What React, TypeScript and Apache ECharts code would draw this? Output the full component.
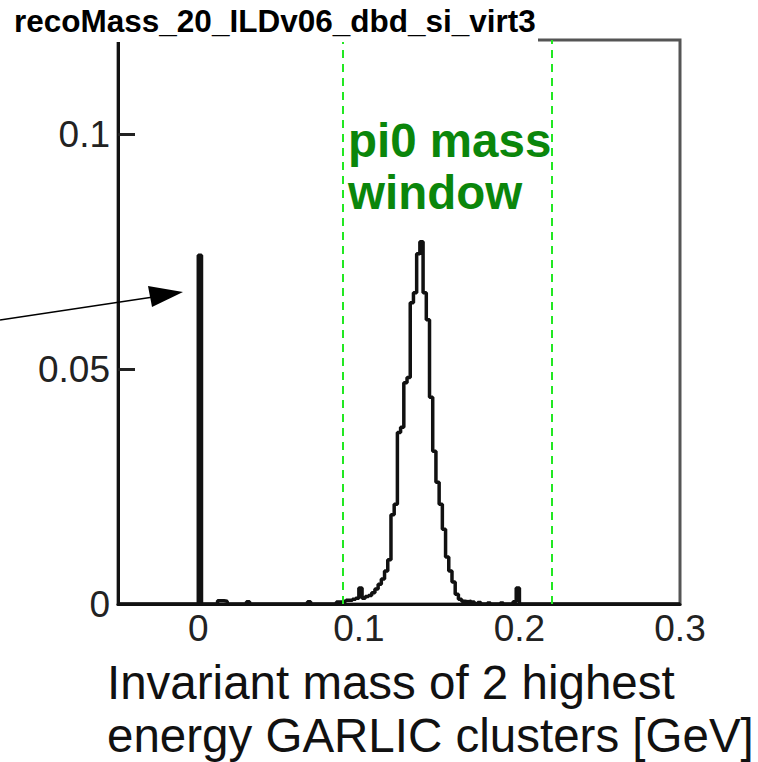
import React, { useEffect, useRef } from "react";
import * as echarts from "echarts";

// Histogram binning
const binMin = -0.05;
const binMax = 0.3;
const binWidth = 0.002;

// Sparse non-zero bins: [bin low edge, content]
const spikeBins: [number, number][] = [
  [0.0, 0.0742],
  [0.012, 0.0007],
  [0.014, 0.0007],
  [0.016, 0.0006],
  [0.03, 0.0005],
  [0.068, 0.0005],
];

// Peak region contents, bins starting at peakStart
const peakStart = 0.086;
const peakValues: number[] = [
  0.0004, 0.0004, 0.0006, 0.0008, 0.0008, 0.001, 0.0012, 0.0034, 0.0012, 0.0016,
  0.0018, 0.0024, 0.0032, 0.0042, 0.0053, 0.007, 0.0094, 0.019, 0.0212, 0.0365,
  0.0376, 0.0471, 0.0482, 0.0641, 0.0662, 0.0745, 0.0771, 0.0662, 0.0605, 0.044,
  0.0325, 0.0259, 0.0212, 0.0159, 0.01, 0.007, 0.0047, 0.0021, 0.001, 0.0006,
  0.0005, 0.0006, 0.0004,
];

// Right tail bins: [bin low edge, content]
const tailBins: [number, number][] = [
  [0.174, 0.0003],
  [0.18, 0.0002],
  [0.188, 0.0002],
  [0.196, 0.0005],
  [0.198, 0.0034],
];

const windowEdges = [0.09, 0.22];
const xLabels = [0, 0.1, 0.2, 0.3];
const yLabels = [0, 0.05, 0.1];
const yTicks = [0.05, 0.1];

const titleText = "recoMass_20_ILDv06_dbd_si_virt3";
const xTitleLines = ["Invariant mass of 2 highest", "energy GARLIC clusters [GeV]"];
const windowTextLines = ["pi0 mass", "window"];

function buildHistogram(): number[][] {
  const nBins = Math.round((binMax - binMin) / binWidth);
  const contents = new Array(nBins).fill(0);
  const idx = (x: number) => Math.round((x - binMin) / binWidth);
  spikeBins.forEach(([x, v]) => (contents[idx(x)] = v));
  peakValues.forEach((v, i) => (contents[idx(peakStart) + i] = v));
  tailBins.forEach(([x, v]) => (contents[idx(x)] = v));
  const pts: number[][] = [];
  for (let k = 0; k < nBins; k++) {
    const lo = binMin + k * binWidth;
    const hi = lo + binWidth;
    pts.push([lo, contents[k]]);
    pts.push([hi, contents[k]]);
  }
  return pts;
}

const FONT = "'Liberation Sans', Arial, Helvetica, sans-serif";

export default function App() {
  const ref = useRef<HTMLDivElement>(null);
  useEffect(() => {
    if (!ref.current) return;
    const chart = echarts.init(ref.current, null, { renderer: "svg" });
    const option: any = {
      animation: false,
      backgroundColor: "#ffffff",
      grid: {
        left: 118,
        right: 78,
        top: 40,
        bottom: 158,
        show: true,
        borderColor: "#555555",
        borderWidth: 3,
        backgroundColor: "transparent",
      },
      xAxis: {
        type: "value",
        min: binMin,
        max: binMax,
        interval: 0.05,
        axisLine: { show: true, onZero: false, lineStyle: { color: "#111", width: 3 } },
        axisTick: { show: false },
        splitLine: { show: false },
        axisLabel: {
          customValues: xLabels,
          formatter: (v: number) => String(Math.round(v * 10) / 10),
          color: "#222",
          fontSize: 37,
          fontFamily: FONT,
          margin: 6,
        },
      },
      yAxis: {
        type: "value",
        min: 0,
        max: 0.12,
        interval: 0.05,
        axisLine: { show: true, onZero: false, lineStyle: { color: "#111", width: 3 } },
        axisTick: {
          show: true,
          inside: true,
          length: 17,
          customValues: yTicks,
          lineStyle: { color: "#222", width: 3 },
        },
        splitLine: { show: false },
        axisLabel: {
          customValues: yLabels,
          formatter: (v: number) => String(Math.round(v * 100) / 100),
          color: "#222",
          fontSize: 37,
          fontFamily: FONT,
          margin: 8,
        },
      },
      series: [
        {
          type: "line",
          data: buildHistogram(),
          symbol: "none",
          showSymbol: false,
          lineStyle: { color: "#111", width: 3.5 },
          z: 3,
          markLine: {
            silent: true,
            symbol: "none",
            label: { show: false },
            lineStyle: { color: "#22e822", type: [8, 6], width: 2 },
            data: windowEdges.map((x) => ({ xAxis: x })),
          },
        },
      ],
      graphic: [
        {
          type: "rect",
          left: 0,
          top: 0,
          shape: { width: 538, height: 42 },
          style: { fill: "#ffffff" },
          z: 10,
        },
        {
          type: "text",
          left: 14,
          top: 5,
          z: 11,
          style: {
            text: titleText,
            font: `bold 31.5px ${FONT}`,
            fill: "#000",
          },
        },
        {
          type: "text",
          left: 348,
          top: 114,
          z: 11,
          style: {
            text: windowTextLines.join("\n"),
            font: `bold 47.5px ${FONT}`,
            lineHeight: 52,
            fill: "#0b860b",
          },
        },
        {
          type: "text",
          left: 107,
          top: 656,
          z: 11,
          style: {
            text: xTitleLines.join("\n"),
            font: `47.5px ${FONT}`,
            lineHeight: 53,
            fill: "#111",
          },
        },
        {
          type: "line",
          z: 11,
          shape: { x1: 0, y1: 320, x2: 160, y2: 296 },
          style: { stroke: "#000", lineWidth: 1.5 },
        },
        {
          type: "polygon",
          z: 11,
          shape: { points: [[183, 292], [148, 286], [152, 307]] },
          style: { fill: "#000" },
        },
      ],
    };
    chart.setOption(option);
    return () => chart.dispose();
  }, []);
  return (
    <div
      ref={ref}
      style={{ position: "absolute", left: 0, top: 0, width: 758, height: 762 }}
    />
  );
}
